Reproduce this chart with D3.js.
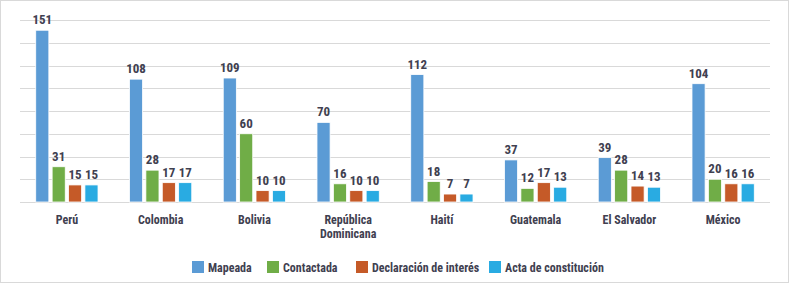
<!DOCTYPE html>
<html><head><meta charset="utf-8">
<script src="https://cdn.jsdelivr.net/npm/d3@7"></script>
<style>
body{margin:0;background:#fff;}
svg text{font-family:"Liberation Sans Narrow","Arial Narrow","Roboto Condensed",sans-serif;font-weight:bold;fill:#404050;}
</style></head>
<body><svg id="c" width="790" height="284"></svg>
<script>
const categories = ["Perú","Colombia","Bolivia","República Dominicana","Haití","Guatemala","El Salvador","México"];
const series = ["Mapeada","Contactada","Declaración de interés","Acta de constitución"];
const mapeada = [151,108,109,70,112,37,39,104];
const contactada = [31,28,60,16,18,12,28,20];
const declaracion = [15,17,10,10,7,17,14,16];
const acta = [15,17,10,10,7,13,13,16];
const colors = ["#5B9BD5","#70AD47","#C55A28","#29ABE2"];
const yTicks = [0,20,40,60,80,100,120,140,160];

const values = [mapeada, contactada, declaracion, acta];
const svg = d3.select("#c");
svg.append("rect").attr("x",0.5).attr("y",0.5).attr("width",788).attr("height",282)
  .attr("fill","none").attr("stroke","#d9d9d9");

const x = d3.scaleBand().domain(categories).range([20,770]).paddingInner(0).paddingOuter(0);
const xi = d3.scaleBand().domain(series).range([0,x.bandwidth()]).paddingOuter(0.96).paddingInner(0.2);
const y = d3.scaleLinear().domain([0,160]).range([202,20]);

svg.append("g").selectAll("line").data(yTicks).join("line")
  .attr("x1",20).attr("x2",770).attr("y1",d=>Math.round(y(d))+0.5).attr("y2",d=>Math.round(y(d))+0.5)
  .attr("stroke","#d9d9d9").attr("stroke-width",1);

const g = svg.append("g").selectAll("g").data(categories).join("g")
  .attr("transform",d=>`translate(${x(d)},0)`);
series.forEach((s,si)=>{
  g.append("rect")
    .attr("x",(d)=>xi(s))
    .attr("width",xi.bandwidth())
    .attr("y",(d,i)=>y(values[si][i]))
    .attr("height",(d,i)=>y(0)-y(values[si][i]))
    .attr("fill",colors[si]).attr("stroke","#fff").attr("stroke-width",0.8);
  g.append("text")
    .attr("x",xi(s)+xi.bandwidth()/2)
    .attr("y",(d,i)=>y(values[si][i])-6)
    .attr("text-anchor","middle").attr("font-size",13)
    .text((d,i)=>values[si][i]);
});

const xAxis = d3.axisBottom(x).tickSize(0).tickPadding(0);
const ax = svg.append("g").attr("transform","translate(0,202)").call(xAxis);
ax.select(".domain").remove();
ax.selectAll("text").attr("font-size",12).attr("dy",null).attr("y",0)
  .each(function(d){
    const t = d3.select(this); t.text(null);
    const words = d==="República Dominicana" ? ["República","Dominicana"] : [d];
    words.forEach((w,k)=>t.append("tspan").attr("x",0).attr("y",22+k*14).text(w));
  });

const legendX = [192,267,356,489];
const lg = svg.append("g").selectAll("g").data(series).join("g")
  .attr("transform",(d,i)=>`translate(${legendX[i]},261)`);
lg.append("rect").attr("width",12).attr("height",12).attr("fill",(d,i)=>colors[i]);
lg.append("text").attr("x",16).attr("y",10.5).attr("font-size",12).text(d=>d);
</script></body></html>
